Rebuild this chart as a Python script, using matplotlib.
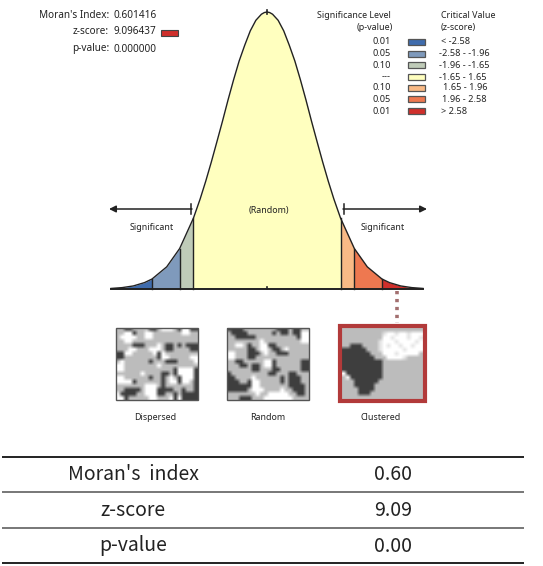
import numpy as np
import matplotlib
matplotlib.use("Agg")
import matplotlib.pyplot as plt
from matplotlib.patches import Rectangle

W, H = 543, 566
SMALL = "Noto Sans"
TABLE = "Noto Sans CJK KR"

# Bell curve: z-score and relative height
curve_z = [-3.5, -3.25, -3, -2.75, -2.58, -2.25, -1.96, -1.65, -1.5, -1.375, -1.25, -1.125, -1, -0.875, -0.75,
           -0.625, -0.5, -0.375, -0.25, -0.125, -0.06, 0, 0.06, 0.125, 0.25, 0.375, 0.5, 0.625, 0.75, 0.875, 1,
           1.125, 1.25, 1.375, 1.5, 1.65, 1.96, 2.25, 2.58, 2.75, 3, 3.25, 3.5]
curve_h = [0.002, 0.005, 0.011, 0.023, 0.036, 0.08, 0.146, 0.256, 0.325, 0.389, 0.458, 0.531, 0.605, 0.682, 0.755,
           0.823, 0.88, 0.932, 0.97, 0.992, 0.998, 1.0, 0.998, 0.992, 0.97, 0.932, 0.88, 0.823, 0.755, 0.682, 0.605,
           0.531, 0.458, 0.389, 0.325, 0.256, 0.146, 0.08, 0.036, 0.023, 0.011, 0.005, 0.002]
band_edges = [-3.5, -2.58, -1.96, -1.65, 1.65, 1.96, 2.58, 3.5]
band_colors = ["#3F6CAD", "#7F9ABC", "#BFCBB8", "#FFFFBF", "#F9BA86", "#EE7850", "#CF2F2B"]

p_labels = ["0.01", "0.05", "0.10", "---", "0.10", "0.05", "0.01"]
z_labels = ["< -2.58", "-2.58 - -1.96", "-1.96 - -1.65", "-1.65 - 1.65", "1.65 - 1.96", "1.96 - 2.58", "> 2.58"]
info_names = ["Moran's Index:", "z-score:", "p-value:"]
info_values = ["0.601416", "9.096437", "0.000000"]

table_names = ["Moran's  index", "z-score", "p-value"]
table_values = ["0.60", "9.09", "0.00"]

map_titles = ["Dispersed", "Random", "Clustered"]
map_dispersed = [
    "GGDDGGGGDDGWWWGDWWDD",
    "GGWWDGGWWGGGGGGGWWGG",
    "GWWWWGGWWGGGGGGGGGGG",
    "GGWWGGGGGGGGGGGGGGGG",
    "GGGGDDDGGGWGDDGDGDDD",
    "GGGWWGGGWWWGDDGGGGDD",
    "DDWWGGGGGWDWGGGGGGGG",
    "DDGGGGGGGGDWWGGGGGWW",
    "GWGGGGGGDGGGDDDGGGGW",
    "WWGGGGGGGGWGGGGGGGGG",
    "WWGGGGGGGGGGGGDWWWWD",
    "GGGGGGWGGGGDDGDWWWWD",
    "WWGGGGGGDGGDGWGDWWWD",
    "WWWWDGGGGGGDGWWDWWGD",
    "GGGGGGGWWWGDGGGGGGGD",
    "GGDDDDGWWWDDDDGGDGGD",
    "WDDDDGGWWWDDGGDGDDDD",
    "WWDGGGGGWWGGGWDWDDDD",
]
map_random = [
    "DDDDGGGGGGGGDDDGDDGG",
    "GDDDDGGGGGGDGDDGDDWW",
    "GGDDDDDGGGGGGGGGGDWW",
    "GGGGGGGGWGGGGGGGGGWW",
    "GGWWGDGGWWDDGGGGGGGG",
    "GGGGGDDGWWGDDGWGGGGG",
    "WWGGGDDDGWGGDDDGGGGG",
    "WWGGGDDGGGGGGGGGGGGG",
    "GGDDGGGGGWWDGGGGGGDD",
    "GGGDDGDDGWWDGGGGGGDD",
    "GGGGGGDDGGGDDGGGGGDD",
    "DGGGGGGGGGDDGGGDDGGG",
    "DDGGGGWGGGGGGDGDDDGG",
    "DDDGGDWWGGGGGDGDDDGG",
    "DDDDDDWWGGGGGGGDDDDG",
    "DDDDDGWWWGGGGWGGDDDG",
    "GGGGGGGWGGWWWWWGGDDG",
    "GGGDDDGGGWWWWWWWGGGG",
]
map_clustered = [
    "GGGGGGGGGGGGGGGGGGGG",
    "GGGGGGGGGGLWWLWWLWWW",
    "GGGGGGGGGGWWLWWWLWWL",
    "GGGGGGGGGLWWWLWWWWLW",
    "GGDDDGGGGLWLWWLWWLWW",
    "DDDDDDGGGLWWWWWLWWWW",
    "DDDDDDDGGGWWWLWWWWWG",
    "DDDDDDDDGGGWWWWLGGGG",
    "DDDDDDDDDDGGGGGGGGGG",
    "DDDDDDDDDDGGGGGGGGGG",
    "DDDDDDDDDDGGGGGGGGGG",
    "WDDDDDDDDDGGGGGGGGGG",
    "GWDDDDDDDDGGGGGGGGGG",
    "GGGDDDDDDGGGGGGGGGGG",
    "GGGDDDDDGGGGGGGGGGGG",
    "GGGGDDDDGGGGGGGGGGGG",
    "GGGGDDDGGGGGGGGGGGGG",
    "GGGGGGGGGGGGGGGGGGGG",
]
map_levels = {"D": 62, "G": 188, "L": 228, "W": 255}

fig = plt.figure(figsize=(W / 100, H / 100), dpi=100, facecolor="white")

def px_axes(x0, y0, x1, y1, z=1):
    ax = fig.add_axes([x0 / W, 1 - y1 / H, (x1 - x0) / W, (y1 - y0) / H], zorder=z)
    ax.axis("off")
    return ax

# Overlay in pixel coordinates for labels and furniture
ov = px_axes(0, 0, W, H, z=3)
ov.set_xlim(0, W)
ov.set_ylim(H, 0)
ov.patch.set_alpha(0)

# Curve
cu = px_axes(111, 12, 423, 289, z=2)
cu.set_xlim(-3.5, 3.5)
cu.set_ylim(0, 1)
z_arr = np.array(curve_z)
h_arr = np.array(curve_h)
for i, col in enumerate(band_colors):
    lo, hi = band_edges[i], band_edges[i + 1]
    m = (z_arr >= lo) & (z_arr <= hi)
    cu.fill_between(z_arr[m], 0, h_arr[m], color=col, lw=0, clip_on=False)
    if i > 0:
        j = np.where(z_arr == lo)[0][0]
        cu.plot([lo, lo], [0, h_arr[j]], color="#222222", lw=1.0, clip_on=False)
cu.plot(z_arr, h_arr, color="#222222", lw=1.0, clip_on=False)
cu.plot([-3.5, 3.5], [0, 0], color="#222222", lw=1.4, clip_on=False)
cu.plot([0, 0], [0, 0.008], color="#222222", lw=1.2, clip_on=False)
cu.plot([0, 0], [0.993, 1.006], color="#222222", lw=1.2, clip_on=False)

def small(x, y, s, ha="center", size=6.4, bold=True, color="#222222"):
    ov.text(x, y, s, ha=ha, va="center", fontsize=size, family=SMALL,
            fontweight="bold" if bold else "normal", color=color)

# Info block
for y, n, v in zip([16, 32, 49], info_names, info_values):
    small(109, y, n, ha="right", size=7.2)
    small(114, y, v, ha="left", size=7.2, bold=False)
ov.add_patch(Rectangle((161, 30), 17, 6, fc=band_colors[-1], ec="#444444", lw=0.8))

# Legend
small(391, 15.5, "Significance Level", ha="right")
small(393, 27.5, "(p-value)", ha="right")
small(441, 15.5, "Critical Value", ha="left")
small(441, 27.5, "(z-score)", ha="left")
rows = [42, 54, 65, 77, 88, 99, 111]
z_x = [441, 439, 439, 439, 443, 442, 441]
for y, col, pv, zv, zx in zip(rows, band_colors, p_labels, z_labels, z_x):
    small(391, y, pv, ha="right", size=6.6)
    ov.add_patch(Rectangle((408, y - 3), 17, 6, fc=col, ec="#555555", lw=0.9))
    small(zx, y, zv, ha="left", size=6.6)

# Arrows and labels
ov.annotate("", xy=(109, 209), xytext=(192, 209),
            arrowprops=dict(arrowstyle="-|>", color="#222222", lw=1.1, shrinkA=0, shrinkB=0))
ov.annotate("", xy=(427, 209), xytext=(343, 209),
            arrowprops=dict(arrowstyle="-|>", color="#222222", lw=1.1, shrinkA=0, shrinkB=0))
ov.plot([191, 191], [204, 214], color="#222222", lw=1.1)
ov.plot([344, 344], [204, 214], color="#222222", lw=1.1)
small(152, 227, "Significant")
small(383, 227, "Significant")
small(269, 210, "(Random)")

# Dotted connector
ov.plot([397, 397], [291, 323], color="#A26F6F", lw=2.6, ls=(0, (0.9, 1.3)))

# Thumbnails
def draw_map(rows_, x0, y0, x1, y1):
    ax = px_axes(x0, y0, x1, y1, z=2)
    a = np.array([[map_levels[c] for c in r] for r in rows_], float)
    ax.imshow(a, cmap="gray", vmin=0, vmax=255, interpolation="bilinear", aspect="auto")

draw_map(map_dispersed, 116, 328, 198, 400)
draw_map(map_random, 227, 328, 309, 400)
draw_map(map_clustered, 342, 328, 423, 399)
ov.add_patch(Rectangle((116, 328), 82, 72, fc="none", ec="#555555", lw=1.0))
ov.add_patch(Rectangle((227, 328), 82, 72, fc="none", ec="#555555", lw=1.0))
ov.add_patch(Rectangle((340, 326), 85, 75, fc="none", ec="#B23A3A", lw=3.0))
for x, t in zip([155, 268, 381], map_titles):
    small(x, 417, t)

# Table
for y, col, lw in [(457, "#222222", 1.4), (492, "#777777", 1.4), (528, "#777777", 1.4), (563, "#222222", 1.4)]:
    ov.plot([2, 524], [y, y], color=col, lw=lw, solid_capstyle="butt")
for y, n, v in zip([475, 511, 546], table_names, table_values):
    ov.text(133, y, n, ha="center", va="center", fontsize=14, family=TABLE, fontweight="light", color="#222222")
    ov.text(393, y, v, ha="center", va="center", fontsize=14, family=TABLE, fontweight="light", color="#222222")

fig.savefig("out.png", dpi=100, facecolor="white")
